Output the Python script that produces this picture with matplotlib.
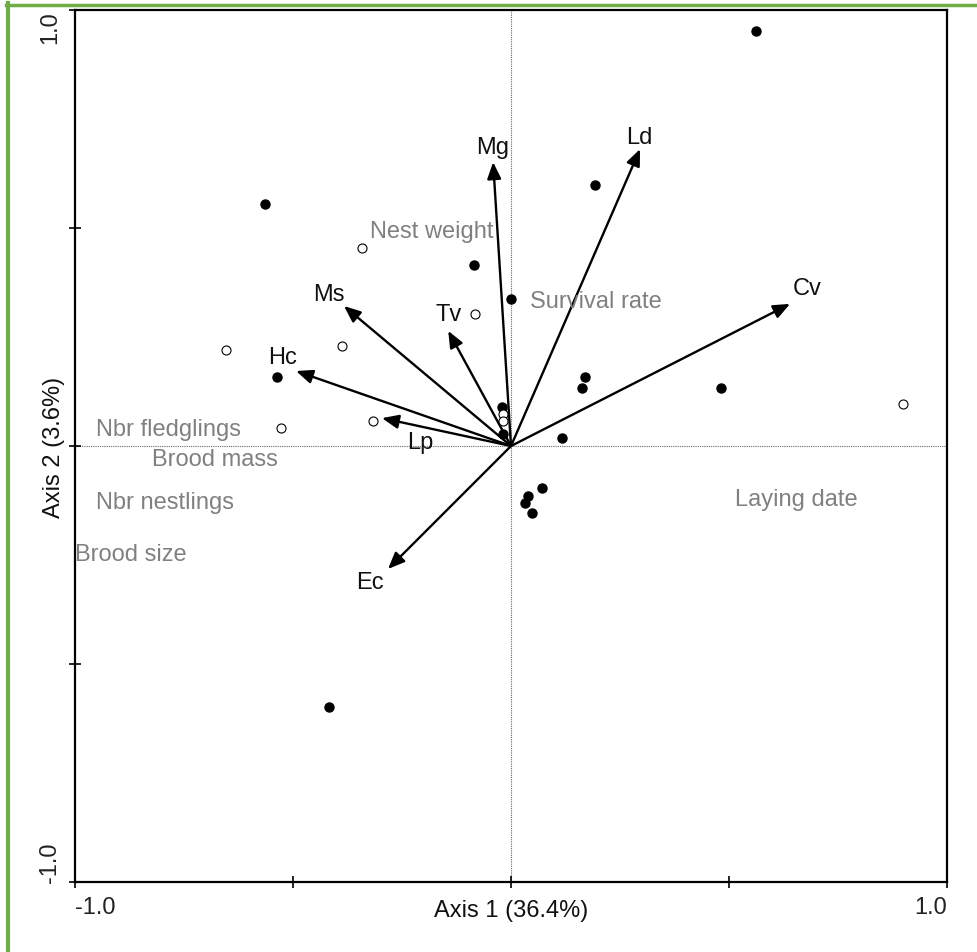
#! /usr/bin/env python3
# Ordination biplot: sites, species arrows and passive environmental variables.

import matplotlib
matplotlib.use("Agg")
import matplotlib.pyplot as plt
from matplotlib.lines import Line2D

plt.rcParams['font.family'] = ['Liberation Sans', 'DejaVu Sans']

# sites with the trait present (filled) and absent (open)
filled_x = [0.562, 0.193, -0.564, -0.085, 0.000, 0.170, 0.163, 0.482, -0.537,
            -0.021, -0.018, 0.117, 0.071, 0.039, 0.032, 0.048, -0.417]
filled_y = [0.952, 0.599, 0.555, 0.415, 0.337, 0.158, 0.133, 0.133, 0.158,
            0.089, 0.028, 0.018, -0.096, -0.115, -0.131, -0.154, -0.599]
open_x = [0.899, -0.342, -0.083, -0.654, -0.388, -0.528, -0.317, -0.018, -0.018]
open_y = [0.096, 0.454, 0.303, 0.220, 0.229, 0.041, 0.057, 0.073, 0.057]

# species arrows (tips) and their label positions
species = ["Mg", "Ld", "Cv", "Ms", "Tv", "Hc", "Lp", "Ec"]
arrow_x = [-0.041, 0.296, 0.640, -0.383, -0.144, -0.493, -0.296, -0.282]
arrow_y = [0.651, 0.681, 0.326, 0.321, 0.264, 0.172, 0.064, -0.282]
label_x = [-0.041, 0.294, 0.679, -0.417, -0.144, -0.525, -0.209, -0.323]
label_y = [0.686, 0.709, 0.362, 0.349, 0.303, 0.204, 0.009, -0.312]

# supplementary variables
env_names = ["Nest weight", "Survival rate", "Nbr fledglings", "Brood mass",
             "Nbr nestlings", "Brood size", "Laying date"]
env_x = [-0.323, 0.044, -0.952, -0.823, -0.952, -1.0, 0.514]
env_y = [0.493, 0.333, 0.039, -0.030, -0.128, -0.248, -0.122]

FS = 17

fig = plt.figure(figsize=(9.78, 9.53), dpi=100)
ax = fig.add_axes([75 / 978, 70 / 953, 872 / 978, 872 / 953])
ax.set_xlim(-1, 1)
ax.set_ylim(-1, 1)

ax.axhline(0, color="#666666", lw=0.8, ls=(0, (1, 1)), zorder=1)
ax.axvline(0, color="#666666", lw=0.8, ls=(0, (1, 1)), zorder=1)

ax.plot(filled_x, filled_y, 'o', ms=6.5, color="black", zorder=4)
ax.plot(open_x, open_y, 'o', ms=6.5, mfc="white", mec="black", mew=0.8, zorder=4)

for name, tx, ty, lx, ly in zip(species, arrow_x, arrow_y, label_x, label_y):
    ax.annotate("", xy=(tx, ty), xytext=(0, 0),
                arrowprops=dict(arrowstyle="-|>,head_length=1.0,head_width=0.42",
                                color="black", lw=1.7, shrinkA=0, shrinkB=0),
                zorder=3)
    ax.text(lx, ly, name, fontsize=FS, color="#111111", ha="center", va="center",
            zorder=5)

for name, ex, ey in zip(env_names, env_x, env_y):
    ax.text(ex, ey, name, fontsize=FS, color="#808080", ha="left", va="center",
            zorder=5)

ax.set_xticks([-1, -0.5, 0, 0.5, 1])
ax.set_xticklabels(["-1.0", "", "", "", "1.0"])
ax.set_yticks([-1, -0.5, 0, 0.5, 1])
ax.set_yticklabels(["-1.0", "", "", "", "1.0"], rotation=90)
xl = ax.get_xticklabels()
xl[0].set_ha("left")
xl[-1].set_ha("right")
yl = ax.get_yticklabels()
yl[0].set_va("bottom")
yl[-1].set_va("top")
ax.tick_params(direction="inout", length=8, width=1.2, labelsize=FS,
               labelcolor="#222222", pad=6)
for s in ax.spines.values():
    s.set_linewidth(1.6)

# axis titles share the row/column of the end tick labels
ax.set_xlabel("Axis 1 (36.4%)", fontsize=FS, color="#111111")
ax.set_ylabel("Axis 2 (3.6%)", fontsize=FS, color="#111111")
ax.xaxis.set_label_coords(0.5, -0.019)
ax.yaxis.set_label_coords(-0.012, 0.5)

# green frame along top and left edge
fig.add_artist(Line2D([6 / 978, 1], [1 - 5.5 / 953, 1 - 5.5 / 953],
                      transform=fig.transFigure, color="#70ad47", lw=2.5))
fig.add_artist(Line2D([8 / 978, 8 / 978], [0, 1 - 4 / 953],
                      transform=fig.transFigure, color="#70ad47", lw=3))

fig.savefig("out.png", dpi=100)
